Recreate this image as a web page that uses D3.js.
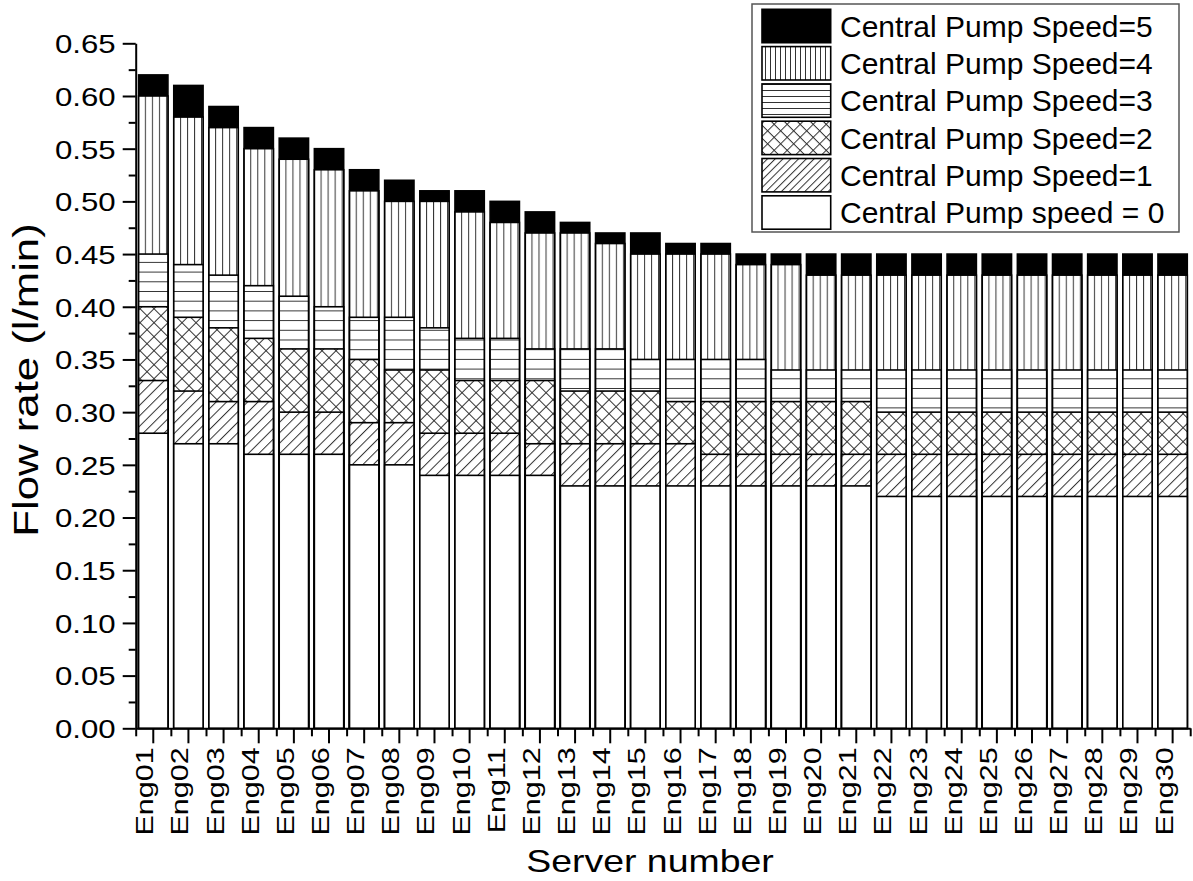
<!DOCTYPE html>
<html>
<head>
<meta charset="utf-8">
<script src="https://cdn.jsdelivr.net/npm/d3@7"></script>
<style>
  html, body { margin: 0; padding: 0; background: #fff; }
  svg { display: block; font-family: "Liberation Sans", Arial, sans-serif; }
  .gray-aa { opacity: 0.999; }
</style>
</head>
<body>
<svg id="chart" width="1193" height="881"></svg>
<script>
// Servers on the x axis
const servers = d3.range(1, 31).map(i => "Eng" + String(i).padStart(2, "0"));

// Flow rate (l/min) per server at each central pump speed
const speed0 = [0.28,0.27,0.27,0.26,0.26,0.26,0.25,0.25,0.24,0.24,0.24,0.24,0.23,0.23,0.23,0.23,0.23,0.23,0.23,0.23,0.23,0.22,0.22,0.22,0.22,0.22,0.22,0.22,0.22,0.22];
const speed1 = [0.33,0.32,0.31,0.31,0.30,0.30,0.29,0.29,0.28,0.28,0.28,0.27,0.27,0.27,0.27,0.27,0.26,0.26,0.26,0.26,0.26,0.26,0.26,0.26,0.26,0.26,0.26,0.26,0.26,0.26];
const speed2 = [0.40,0.39,0.38,0.37,0.36,0.36,0.35,0.34,0.34,0.33,0.33,0.33,0.32,0.32,0.32,0.31,0.31,0.31,0.31,0.31,0.31,0.30,0.30,0.30,0.30,0.30,0.30,0.30,0.30,0.30];
const speed3 = [0.45,0.44,0.43,0.42,0.41,0.40,0.39,0.39,0.38,0.37,0.37,0.36,0.36,0.36,0.35,0.35,0.35,0.35,0.34,0.34,0.34,0.34,0.34,0.34,0.34,0.34,0.34,0.34,0.34,0.34];
const speed4 = [0.60,0.58,0.57,0.55,0.54,0.53,0.51,0.50,0.50,0.49,0.48,0.47,0.47,0.46,0.45,0.45,0.45,0.44,0.44,0.43,0.43,0.43,0.43,0.43,0.43,0.43,0.43,0.43,0.43,0.43];
const speed5 = [0.62,0.61,0.59,0.57,0.56,0.55,0.53,0.52,0.51,0.51,0.50,0.49,0.48,0.47,0.47,0.46,0.46,0.45,0.45,0.45,0.45,0.45,0.45,0.45,0.45,0.45,0.45,0.45,0.45,0.45];

// Legend entries, top to bottom
const seriesNames = ["Central Pump Speed=5","Central Pump Speed=4","Central Pump Speed=3","Central Pump Speed=2","Central Pump Speed=1","Central Pump speed = 0"];

// Axis ticks
const yTickValues = [0,0.05,0.10,0.15,0.20,0.25,0.30,0.35,0.40,0.45,0.50,0.55,0.60,0.65];
const yMinorValues = [0.025,0.075,0.125,0.175,0.225,0.275,0.325,0.375,0.425,0.475,0.525,0.575,0.625];

const series = [
  { name: seriesNames[0], values: speed5, fill: "#000" },
  { name: seriesNames[1], values: speed4, fill: "url(#vert)" },
  { name: seriesNames[2], values: speed3, fill: "url(#horz)" },
  { name: seriesNames[3], values: speed2, fill: "url(#cross)" },
  { name: seriesNames[4], values: speed1, fill: "url(#diag)" },
  { name: seriesNames[5], values: speed0, fill: "#fff" }
];
const legendFills = ["#000", "url(#vertL)", "url(#horzL)", "url(#crossL)", "url(#diagL)", "#fff"];

const svg = d3.select("#chart");
const X0 = 135.7, X1 = 1190.2, Y0 = 728.3, Y1 = 43.3;

const x = d3.scaleBand().domain(servers).range([X0, X1]).paddingInner(0.166).paddingOuter(0.083);
const xEdge = d3.scaleLinear().domain([0, servers.length]).range([X0, X1]);
const y = d3.scaleLinear().domain([0, 0.65]).range([Y0, Y1]);

// ---- hatch patterns ----
const defs = svg.append("defs");
const hatchColor = "#333";

function linePattern(id, spacing, angle, cross, offsetX) {
  const p = defs.append("pattern").attr("id", id)
    .attr("patternUnits", "userSpaceOnUse")
    .attr("width", spacing).attr("height", spacing)
    .attr("x", offsetX || 0);
  if (angle) p.attr("patternTransform", `rotate(${angle})`);
  p.append("rect").attr("width", spacing).attr("height", spacing).attr("fill", "#fff");
  p.append("line").attr("x1", 0.5).attr("x2", 0.5).attr("y1", 0).attr("y2", spacing)
    .attr("stroke", hatchColor).attr("stroke-width", 1);
  if (cross) {
    p.append("line").attr("x1", 0).attr("x2", spacing).attr("y1", 0.5).attr("y2", 0.5)
      .attr("stroke", hatchColor).attr("stroke-width", 1);
  }
}
function horzPattern(id, spacing) {
  const p = defs.append("pattern").attr("id", id)
    .attr("patternUnits", "userSpaceOnUse")
    .attr("width", 10).attr("height", spacing);
  p.append("rect").attr("width", 10).attr("height", spacing).attr("fill", "#fff");
  p.append("line").attr("x1", 0).attr("x2", 10).attr("y1", 0.5).attr("y2", 0.5)
    .attr("stroke", hatchColor).attr("stroke-width", 1);
}

const firstLeft = x(servers[0]);
linePattern("vert", x.step() / 5, 0, false, firstLeft + 6.2);
horzPattern("horz", 9.7);
linePattern("diag", 7.4, 45, false);
linePattern("cross", 9.9, 45, true);
linePattern("vertL", 5, 0, false);
horzPattern("horzL", 6);
linePattern("diagL", 5.5, 45, false);
linePattern("crossL", 9.2, 45, true);

// ---- bars: every speed drawn from zero, highest flow at the back ----
const plot = svg.append("g");
series.forEach(s => {
  plot.append("g").selectAll("rect")
    .data(servers.map((k, i) => ({ k, v: s.values[i] })))
    .join("rect")
    .attr("x", d => x(d.k))
    .attr("width", x.bandwidth())
    .attr("y", d => y(d.v))
    .attr("height", d => y(0) - y(d.v))
    .attr("fill", s.fill)
    .attr("stroke", "#000")
    .attr("stroke-width", 1.6);
});

// ---- y axis ----
const yScaleX = 1.2;
const yAxis = svg.append("g").attr("transform", `translate(${X0},0)`)
  .call(d3.axisLeft(y).tickValues(yTickValues).tickSize(13).tickSizeOuter(0)
    .tickFormat(d3.format(".2f")));
yAxis.select(".domain").attr("stroke-width", 2);
yAxis.selectAll(".tick line").attr("stroke-width", 2);
yAxis.selectAll(".tick text")
  .attr("class", "gray-aa")
  .attr("font-size", 26)
  .attr("font-family", "Liberation Sans, Arial, sans-serif")
  .attr("fill", "#000")
  .attr("x", -20 / yScaleX)
  .attr("dy", "0.36em")
  .attr("transform", `scale(${yScaleX},1)`);
const yMinor = svg.append("g").attr("transform", `translate(${X0},0)`)
  .call(d3.axisLeft(y).tickValues(yMinorValues).tickSize(7).tickFormat(""));
yMinor.select(".domain").remove();
yMinor.selectAll(".tick line").attr("stroke-width", 2);

// ---- x axis ----
const xScaleX = 1.3;
const xAxis = svg.append("g").attr("transform", `translate(0,${Y0})`)
  .call(d3.axisBottom(x).tickSize(15).tickSizeOuter(0));
xAxis.select(".domain").remove();
xAxis.selectAll(".tick line").attr("stroke-width", 2);
xAxis.selectAll(".tick text")
  .attr("class", "gray-aa")
  .attr("font-size", 23.5)
  .attr("font-family", "Liberation Sans, Arial, sans-serif")
  .attr("fill", "#000")
  .attr("text-anchor", "end")
  .attr("x", -19 / xScaleX)
  .attr("y", 0)
  .attr("dy", 0)
  .attr("transform", `rotate(-90) scale(${xScaleX},1)`);
const xMinor = svg.append("g").attr("transform", `translate(0,${Y0})`)
  .call(d3.axisBottom(xEdge).tickValues(d3.range(0, servers.length + 1)).tickSize(8).tickFormat("").tickSizeOuter(0));
xMinor.select(".domain").attr("stroke-width", 2);
xMinor.selectAll(".tick line").attr("stroke-width", 2);

// ---- axis titles ----
svg.append("g").attr("transform", "translate(650,872) scale(1.17,1)")
  .append("text").attr("class", "gray-aa").attr("text-anchor", "middle").attr("font-size", 32)
  .text("Server number");
svg.append("g").attr("transform", "translate(38,380) rotate(-90) scale(1.25,1)")
  .append("text").attr("class", "gray-aa").attr("text-anchor", "middle").attr("font-size", 35)
  .text("Flow rate (l/min)");

// ---- legend ----
const lg = svg.append("g");
lg.append("rect").attr("x", 752).attr("y", 4).attr("width", 427).attr("height", 228)
  .attr("fill", "#fff").attr("stroke", "#555").attr("stroke-width", 1.5);
const rowPitch = 37.3;
seriesNames.forEach((name, i) => {
  lg.append("rect").attr("x", 762).attr("y", 9.3 + i * rowPitch)
    .attr("width", 68.7).attr("height", 33.4)
    .attr("fill", legendFills[i]).attr("stroke", "#000").attr("stroke-width", 1.6);
  lg.append("text").attr("class", "gray-aa").attr("x", 840).attr("y", 36.7 + i * rowPitch)
    .attr("font-size", 30).attr("fill", "#000").text(name);
});
</script>
</body>
</html>
